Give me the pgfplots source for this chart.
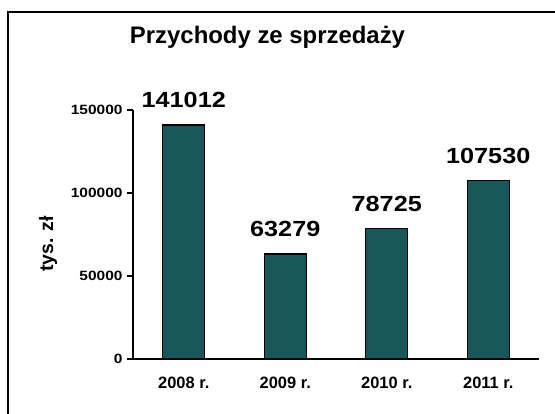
\documentclass[border=0pt]{standalone}
\usepackage{fontspec}
\setmainfont{Liberation Sans}
\newfontfamily\widefont[FakeStretch=1.15]{Liberation Sans}
\usepackage{pgfplots}
\pgfplotsset{compat=1.18}
\definecolor{barfill}{RGB}{24,88,90}
\begin{document}
\begin{tikzpicture}[x=1bp,y=1bp]
\useasboundingbox (0,0) rectangle (555,413);
\draw[line width=1.8bp] (8,-5) -- (8,401) -- (560,401);
\node[font=\fontsize{24}{28}\selectfont\bfseries, anchor=base] at (267.5,370) {Przychody ze sprzedaży};
\begin{axis}[
  at={(133bp,54bp)}, anchor=south west,
  scale only axis, width=406bp, height=249bp,
  xmin=-0.5, xmax=3.5, ymin=0, ymax=150000,
  axis lines*=left,
  axis line style={line width=1.3bp},
  tick align=outside,
  major tick length=6bp, minor tick length=6bp,
  every tick/.style={black, line width=1.3bp},
  xtick={0,1,2,3},
  xticklabels={2008 r., 2009 r., 2010 r., 2011 r.},
  xtick style={draw=none},
  minor xtick={-0.5,0.5,1.5,2.5,3.5},
  ytick={0,50000,100000,150000},
  scaled y ticks=false,
  /pgf/number format/.cd, fixed, 1000 sep={}, assume math mode=true, /pgfplots/.cd,
  yticklabel style={font=\widefont\fontsize{13.5}{16}\selectfont\bfseries, xshift=-1bp},
  xticklabel style={font=\fontsize{16.5}{18}\selectfont\bfseries, yshift=-8bp},
  ylabel={tys. zł},
  ylabel style={font=\fontsize{19.5}{22}\selectfont\bfseries, at={(axis description cs:-0.209,0.462)}, anchor=center},
  ybar, bar width=42bp, bar shift=0pt,
  point meta=explicit symbolic,
  nodes near coords,
  every node near coord/.append style={font=\widefont\fontsize{22}{26}\selectfont\bfseries, anchor=base, yshift=17bp, black},
  clip=false,
]
\addplot[fill=barfill, draw=black, line width=1.3bp] coordinates {
  (0,141012) [141012]
  (1,63279) [63279]
  (2,78725) [78725]
  (3,107530) [107530]
};
\end{axis}
\end{tikzpicture}
\end{document}
